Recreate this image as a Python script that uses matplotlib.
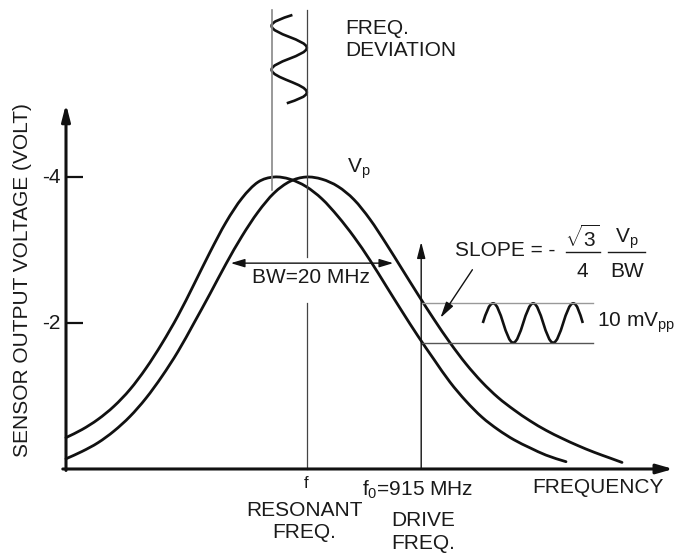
import numpy as np
import matplotlib.pyplot as plt
from matplotlib.path import Path
from matplotlib.patches import PathPatch

plt.rcParams['font.family'] = ['Liberation Sans', 'DejaVu Sans']
plt.rcParams['mathtext.fontset'] = 'custom'
plt.rcParams['mathtext.rm'] = 'Liberation Sans'
plt.rcParams['mathtext.it'] = 'Liberation Sans:italic'
plt.rcParams['mathtext.bf'] = 'Liberation Sans:bold'
plt.rcParams['mathtext.default'] = 'regular'

# shifted response (peak left of resonance), frequency in MHz, |voltage| in V
freq_a = [871, 873, 875, 877, 879, 881, 883, 885, 887, 889, 891, 893, 895, 897,
          899, 901, 903, 905, 907, 909, 911, 913, 915, 917, 919, 921, 923, 925,
          927, 929, 931, 933.5]
volt_a = [0.43, 0.54, 0.68, 0.86, 1.09, 1.38, 1.72, 2.10, 2.53, 2.97, 3.38, 3.71, 3.93, 4.00,
          3.97, 3.87, 3.70, 3.46, 3.18, 2.86, 2.51, 2.16, 1.82, 1.50, 1.19, 0.93, 0.71, 0.54,
          0.40, 0.29, 0.19, 0.10]

# response centred on the resonant frequency
freq_b = [871, 873, 875, 877, 879, 881, 883, 885, 887, 889, 891, 893, 895, 897, 899,
          901, 903, 905, 907, 909, 911, 913, 915, 917, 919, 921, 923, 925,
          927, 929, 931, 933, 935, 937, 939, 940.5]
volt_b = [0.14, 0.24, 0.36, 0.52, 0.72, 0.97, 1.27, 1.61, 2.00, 2.40, 2.81, 3.19, 3.52, 3.78, 3.94,
          4.00, 3.97, 3.87, 3.69, 3.42, 3.09, 2.74, 2.39, 2.05, 1.73, 1.44, 1.19, 0.98,
          0.81, 0.66, 0.53, 0.42, 0.32, 0.23, 0.15, 0.09]

yticks = [4, 2]
ytick_labels = ['-4', '-2']

f_peak_a = 896.7      # left edge of the frequency deviation
f_res = 901.1         # resonant frequency
f_drive = 915.4       # drive frequency (915 MHz)
bw_lo, bw_hi = 891.6, 911.9
v_hi, v_lo = 2.27, 1.73   # output swing at the drive frequency

# frequency deviation wiggle (freq, volt): ends are zero crossings, rest are extremes
dev_wave = [(899.3, 6.22), (f_peak_a, 6.07), (f_res, 5.77), (f_peak_a, 5.47),
            (f_res, 5.16), (898.6, 5.01)]
# output wiggle between the two levels
out_wave = [(923.1, 2.0), (924.4, v_hi), (926.9, v_lo), (929.4, v_hi),
            (931.9, v_lo), (934.4, v_hi), (935.6, 2.0)]


def smooth_path(xs, ys):
    # smooth drawing through the read points (cubic hermite in x)
    x = np.asarray(xs, float)
    y = np.asarray(ys, float)
    m = np.gradient(y, x)
    verts = [(x[0], y[0])]
    codes = [Path.MOVETO]
    for i in range(len(x) - 1):
        h = x[i + 1] - x[i]
        verts += [(x[i] + h / 3, y[i] + m[i] * h / 3),
                  (x[i + 1] - h / 3, y[i + 1] - m[i + 1] * h / 3),
                  (x[i + 1], y[i + 1])]
        codes += [Path.CURVE4] * 3
    return Path(verts, codes)


def wave_path(nodes, along):
    # cubic bezier through zero crossing / extreme nodes
    cross = 1 - along
    verts = [nodes[0]]
    codes = [Path.MOVETO]
    last = len(nodes) - 2
    for i in range(len(nodes) - 1):
        p = np.array(nodes[i], float)
        q = np.array(nodes[i + 1], float)
        d = q - p
        c1, c2 = p.copy(), q.copy()
        if i == 0:
            c1[along] += 0.33 * d[along]
            c1[cross] += 0.52 * d[cross]
            c2[along] -= 0.40 * d[along]
        elif i == last:
            c1[along] += 0.40 * d[along]
            c2[along] -= 0.33 * d[along]
            c2[cross] -= 0.52 * d[cross]
        else:
            c1[along] += 0.364 * d[along]
            c2[along] -= 0.364 * d[along]
        verts += [tuple(c1), tuple(c2), tuple(q)]
        codes += [Path.CURVE4] * 3
    return Path(verts, codes)


fig = plt.figure(figsize=(6.75, 5.56), dpi=100)
ax = fig.add_axes([0, 0, 1, 1])
ax.set_xlim(862.75, 947.125)
ax.set_ylim(-1.192, 6.425)
ax.axis('off')

ink = '#111111'
txt = '#1a1a1a'
fs = 15

# axes with arrows
ax.annotate('', xy=(871, 5.0), xytext=(871, -0.02),
            arrowprops=dict(arrowstyle='-|>,head_length=0.7,head_width=0.18', lw=2.2,
                            color=ink, shrinkA=0, shrinkB=0, mutation_scale=14))
ax.annotate('', xy=(946.9, 0), xytext=(870.6, 0),
            arrowprops=dict(arrowstyle='-|>,head_length=0.7,head_width=0.2', lw=2.2,
                            color=ink, shrinkA=0, shrinkB=0, mutation_scale=14))
for v, lab in zip(yticks, ytick_labels):
    ax.plot([871, 873.1], [v, v], color=ink, lw=1.6, solid_capstyle='butt')
    ax.text(870.3, v, lab, ha='right', va='center', fontsize=fs, color=txt)
ax.text(865.6, 2.59, 'SENSOR OUTPUT VOLTAGE (VOLT)', rotation=90, ha='center',
        va='center', fontsize=fs, color=txt)

# response curves
for fr, vo in [(freq_a, volt_a), (freq_b, volt_b)]:
    ax.add_patch(PathPatch(smooth_path(fr, vo), fill=False, lw=2.0, color=ink,
                           capstyle='round'))

# frequency deviation lines and wiggle
ax.plot([f_peak_a, f_peak_a], [3.82, 6.29], color='#888888', lw=1.2)
ax.plot([f_res, f_res], [2.90, 6.29], color='#444444', lw=0.9)
ax.plot([f_res, f_res], [0, 2.27], color='#444444', lw=0.9)
ax.add_patch(PathPatch(wave_path(dev_wave, 1), fill=False, lw=1.9, color=ink))
ax.text(905.9, 6.16, 'FREQ.\nDEVIATION', ha='left', va='top', fontsize=fs, color=txt,
        linespacing=1.15)
ax.text(906.1, 4.12, '$V_p$', ha='left', va='center', fontsize=fs, color=txt)

# bandwidth
ax.annotate('', xy=(bw_lo, 2.82), xytext=(bw_hi, 2.82),
            arrowprops=dict(arrowstyle='<|-|>,head_length=0.6,head_width=0.18', lw=1.0,
                            color=ink, shrinkA=0, shrinkB=0, mutation_scale=14))
ax.text(901.6, 2.63, 'BW=20 MHz', ha='center', va='center', fontsize=fs, color=txt)

# drive frequency and output swing
ax.annotate('', xy=(f_drive, 3.11), xytext=(f_drive, 0),
            arrowprops=dict(arrowstyle='-|>,head_length=0.7,head_width=0.18', lw=1.0,
                            color=ink, shrinkA=0, shrinkB=0, mutation_scale=14))
ax.plot([f_drive, 936.9], [v_hi, v_hi], color='#999999', lw=1.0)
ax.plot([f_drive, 936.9], [v_lo, v_lo], color='#555555', lw=1.0)
ax.add_patch(PathPatch(wave_path(out_wave, 0), fill=False, lw=1.9, color=ink))
ax.text(937.4, 2.0, '10 mV$_{pp}$', ha='left', va='center', fontsize=fs, color=txt)

# slope annotation
ax.annotate('', xy=(917.8, 2.07), xytext=(921.8, 2.73),
            arrowprops=dict(arrowstyle='-|>,head_length=0.7,head_width=0.18', lw=1.0,
                            color=ink, shrinkA=0, shrinkB=0, mutation_scale=14))
ax.text(919.6, 3.0, 'SLOPE = -', ha='left', va='center', fontsize=fs, color=txt)
ax.text(935.6, 3.17, r'$\sqrt{3}$', ha='center', va='center', fontsize=fs, color=txt)
ax.plot([933.5, 937.8], [2.97, 2.97], color=txt, lw=1.0)
ax.text(935.6, 2.71, '4', ha='center', va='center', fontsize=fs, color=txt)
ax.text(941.1, 3.16, '$V_p$', ha='center', va='center', fontsize=fs, color=txt)
ax.plot([938.8, 943.4], [2.97, 2.97], color=txt, lw=1.0)
ax.text(941.1, 2.71, 'BW', ha='center', va='center', fontsize=fs, color=txt)

# x labels
ax.text(901.0, -0.2, 'f', ha='center', va='center', fontsize=12, color=txt)
ax.text(900.8, -0.72, 'RESONANT\nFREQ.', ha='center', va='center', fontsize=fs,
        color=txt, linespacing=1.25)
ax.text(908.0, -0.29, 'f$_0$=915 MHz', ha='left', va='center', fontsize=fs, color=txt)
ax.text(915.6, -0.86, 'DRIVE\nFREQ.', ha='center', va='center', fontsize=fs,
        color=txt, linespacing=1.25)
ax.text(937.5, -0.26, 'FREQUENCY', ha='center', va='center', fontsize=fs, color=txt)

fig.savefig('out.png', dpi=100)
